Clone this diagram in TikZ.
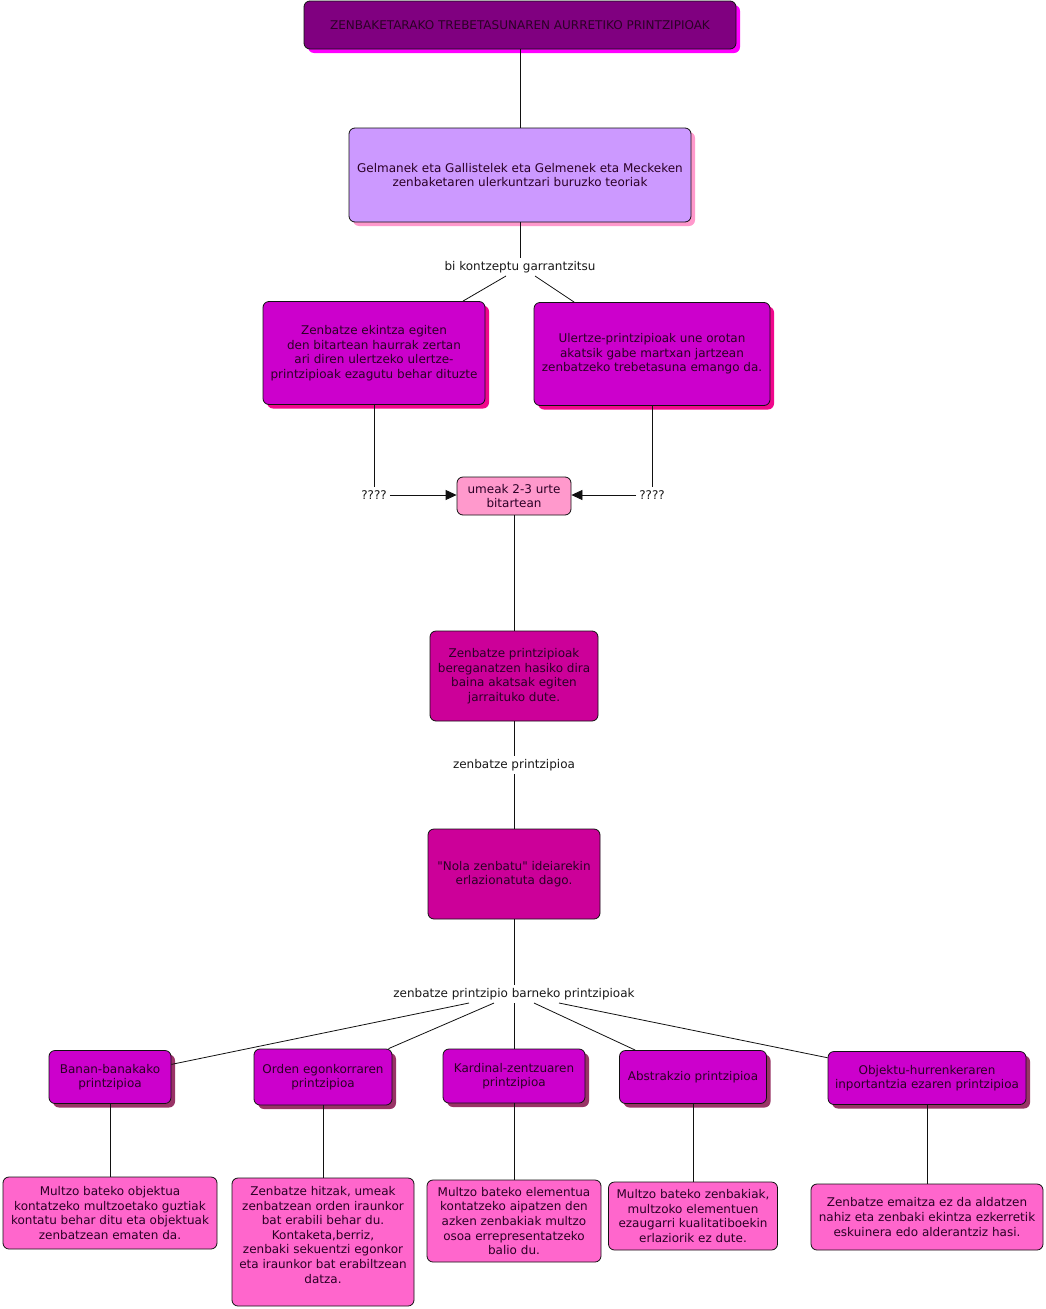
\documentclass[tikz,border=0pt]{standalone}
\usepackage{fontspec}
\setmainfont{DejaVu Sans}
\newfontfamily\dvs{DejaVu Sans}
\usetikzlibrary{arrows.meta,shadows}
\definecolor{titlefill}{HTML}{800080}
\definecolor{titleshadow}{HTML}{FF00FF}
\definecolor{gelfill}{HTML}{CC99FF}
\definecolor{gelshadow}{HTML}{FF99CC}
\definecolor{conceptfill}{HTML}{CC00CC}
\definecolor{conceptshadow}{HTML}{F0078C}
\definecolor{agefill}{HTML}{FF99CC}
\definecolor{zenfill}{HTML}{CC0099}
\definecolor{princshadow}{HTML}{993366}
\definecolor{leaffill}{HTML}{FF66CC}
\definecolor{txt}{HTML}{2B0026}
\definecolor{edgecol}{HTML}{111111}
\begin{document}
\begin{tikzpicture}[x=1pt,y=-1pt,
  box/.style={draw=edgecol, line width=0.8pt, rounded corners=6pt, align=center,
    text=txt, font=\dvs\fontsize{12}{14.6}\selectfont, inner sep=2pt},
  lab/.style={text=black!90, font=\dvs\fontsize{12}{14.6}\selectfont, inner sep=3pt},
  ln/.style={draw=edgecol, line width=0.8pt},
  arr/.style={ln, -{Triangle[length=11pt,width=10pt]}},
  shad/.style={drop shadow={shadow xshift=4pt, shadow yshift=-4pt, fill=#1, opacity=1}}
]
\useasboundingbox[fill=white] (0,0) rectangle (1046,1309);

% top
\node[box, fill=titlefill, shad=titleshadow, minimum width=432, minimum height=48] (title) at (520,25)
  {ZENBAKETARAKO TREBETASUNAREN AURRETIKO PRINTZIPIOAK};
\node[box, fill=gelfill, shad=gelshadow, minimum width=342, minimum height=94] (gel) at (520,175)
  {Gelmanek eta Gallistelek eta Gelmenek eta Meckeken\\zenbaketaren ulerkuntzari buruzko teoriak};
\node[lab] (l1) at (520,267) {bi kontzeptu garrantzitsu};

\node[box, fill=conceptfill, shad=conceptshadow, minimum width=222, minimum height=103] (left) at (374,353)
  {Zenbatze ekintza egiten\\den bitartean haurrak zertan\\ari diren ulertzeko ulertze-\\printzipioak ezagutu behar dituzte};
\node[box, fill=conceptfill, shad=conceptshadow, minimum width=236, minimum height=103] (right) at (652,354)
  {Ulertze-printzipioak une orotan\\akatsik gabe martxan jartzean\\zenbatzeko trebetasuna emango da.};

\node[lab] (ql) at (374,495) {????};
\node[lab] (qr) at (652,495) {????};
\node[box, fill=agefill, minimum width=114, minimum height=38] (age) at (514,496)
  {umeak 2-3 urte\\bitartean};

\node[box, fill=zenfill, minimum width=168, minimum height=90] (zen) at (514,676)
  {Zenbatze printzipioak\\bereganatzen hasiko dira\\baina akatsak egiten\\jarraituko dute.};
\node[lab] (l2) at (514,765) {zenbatze printzipioa};
\node[box, fill=zenfill, minimum width=172, minimum height=90] (nola) at (514,874)
  {"Nola zenbatu" ideiarekin\\erlazionatuta dago.};
\node[lab] (l3) at (514,994) {zenbatze printzipio barneko printzipioak};

% principles
\node[box, fill=conceptfill, shad=princshadow, minimum width=122, minimum height=53] (p1) at (110,1077)
  {Banan-banakako\\printzipioa};
\node[box, fill=conceptfill, shad=princshadow, minimum width=138, minimum height=56] (p2) at (323,1077)
  {Orden egonkorraren\\printzipioa};
\node[box, fill=conceptfill, shad=princshadow, minimum width=142, minimum height=54] (p3) at (514,1076)
  {Kardinal-zentzuaren\\printzipioa};
\node[box, fill=conceptfill, shad=princshadow, minimum width=147, minimum height=53] (p4) at (693,1077)
  {Abstrakzio printzipioa};
\node[box, fill=conceptfill, shad=princshadow, minimum width=198, minimum height=53] (p5) at (927,1078)
  {Objektu-hurrenkeraren\\inportantzia ezaren printzipioa};

% leaves
\node[box, fill=leaffill, minimum width=214, minimum height=72] (f1) at (110,1213)
  {Multzo bateko objektua\\kontatzeko multzoetako guztiak\\kontatu behar ditu eta objektuak\\zenbatzean ematen da.};
\node[box, fill=leaffill, minimum width=182, minimum height=128] (f2) at (323,1242)
  {Zenbatze hitzak, umeak\\zenbatzean orden iraunkor\\bat erabili behar du.\\Kontaketa,berriz,\\zenbaki sekuentzi egonkor\\eta iraunkor bat erabiltzean\\datza.\\\mbox{}};
\node[box, fill=leaffill, minimum width=174, minimum height=82] (f3) at (514,1221)
  {Multzo bateko elementua\\kontatzeko aipatzen den\\azken zenbakiak multzo\\osoa errepresentatzeko\\balio du.};
\node[box, fill=leaffill, minimum width=169, minimum height=68] (f4) at (693,1216)
  {Multzo bateko zenbakiak,\\multzoko elementuen\\ezaugarri kualitatiboekin\\erlaziorik ez dute.};
\node[box, fill=leaffill, minimum width=232, minimum height=66] (f5) at (927,1217)
  {Zenbatze emaitza ez da aldatzen\\nahiz eta zenbaki ekintza ezkerretik\\eskuinera edo alderantziz hasi.};

% connectors
\draw[ln] (title) -- (gel);
\draw[ln] (gel) -- (l1);
\draw[ln] ([xshift=-14pt]l1.south) -- (left);
\draw[ln] ([xshift=15pt]l1.south) -- (right);
\draw[ln] (left.south) -- (ql);
\draw[ln] (right.south) -- (qr);
\draw[arr] (ql.east) -- (ql.east -| age.west);
\draw[arr] (qr.west) -- (qr.west -| age.east);
\draw[ln] (age) -- (zen);
\draw[ln] (zen) -- (l2);
\draw[ln] (l2) -- (nola);
\draw[ln] (nola) -- (l3);
\draw[ln] ([xshift=-45pt]l3.south) -- (p1);
\draw[ln] ([xshift=-20pt]l3.south) -- (p2);
\draw[ln] (l3.south) -- (p3.north);
\draw[ln] ([xshift=20pt]l3.south) -- (p4);
\draw[ln] ([xshift=45pt]l3.south) -- (p5);
\draw[ln] (p1) -- (f1);
\draw[ln] (p2) -- (f2);
\draw[ln] (p3) -- (f3);
\draw[ln] (p4) -- (f4);
\draw[ln] (p5) -- (f5);
\end{tikzpicture}
\end{document}
